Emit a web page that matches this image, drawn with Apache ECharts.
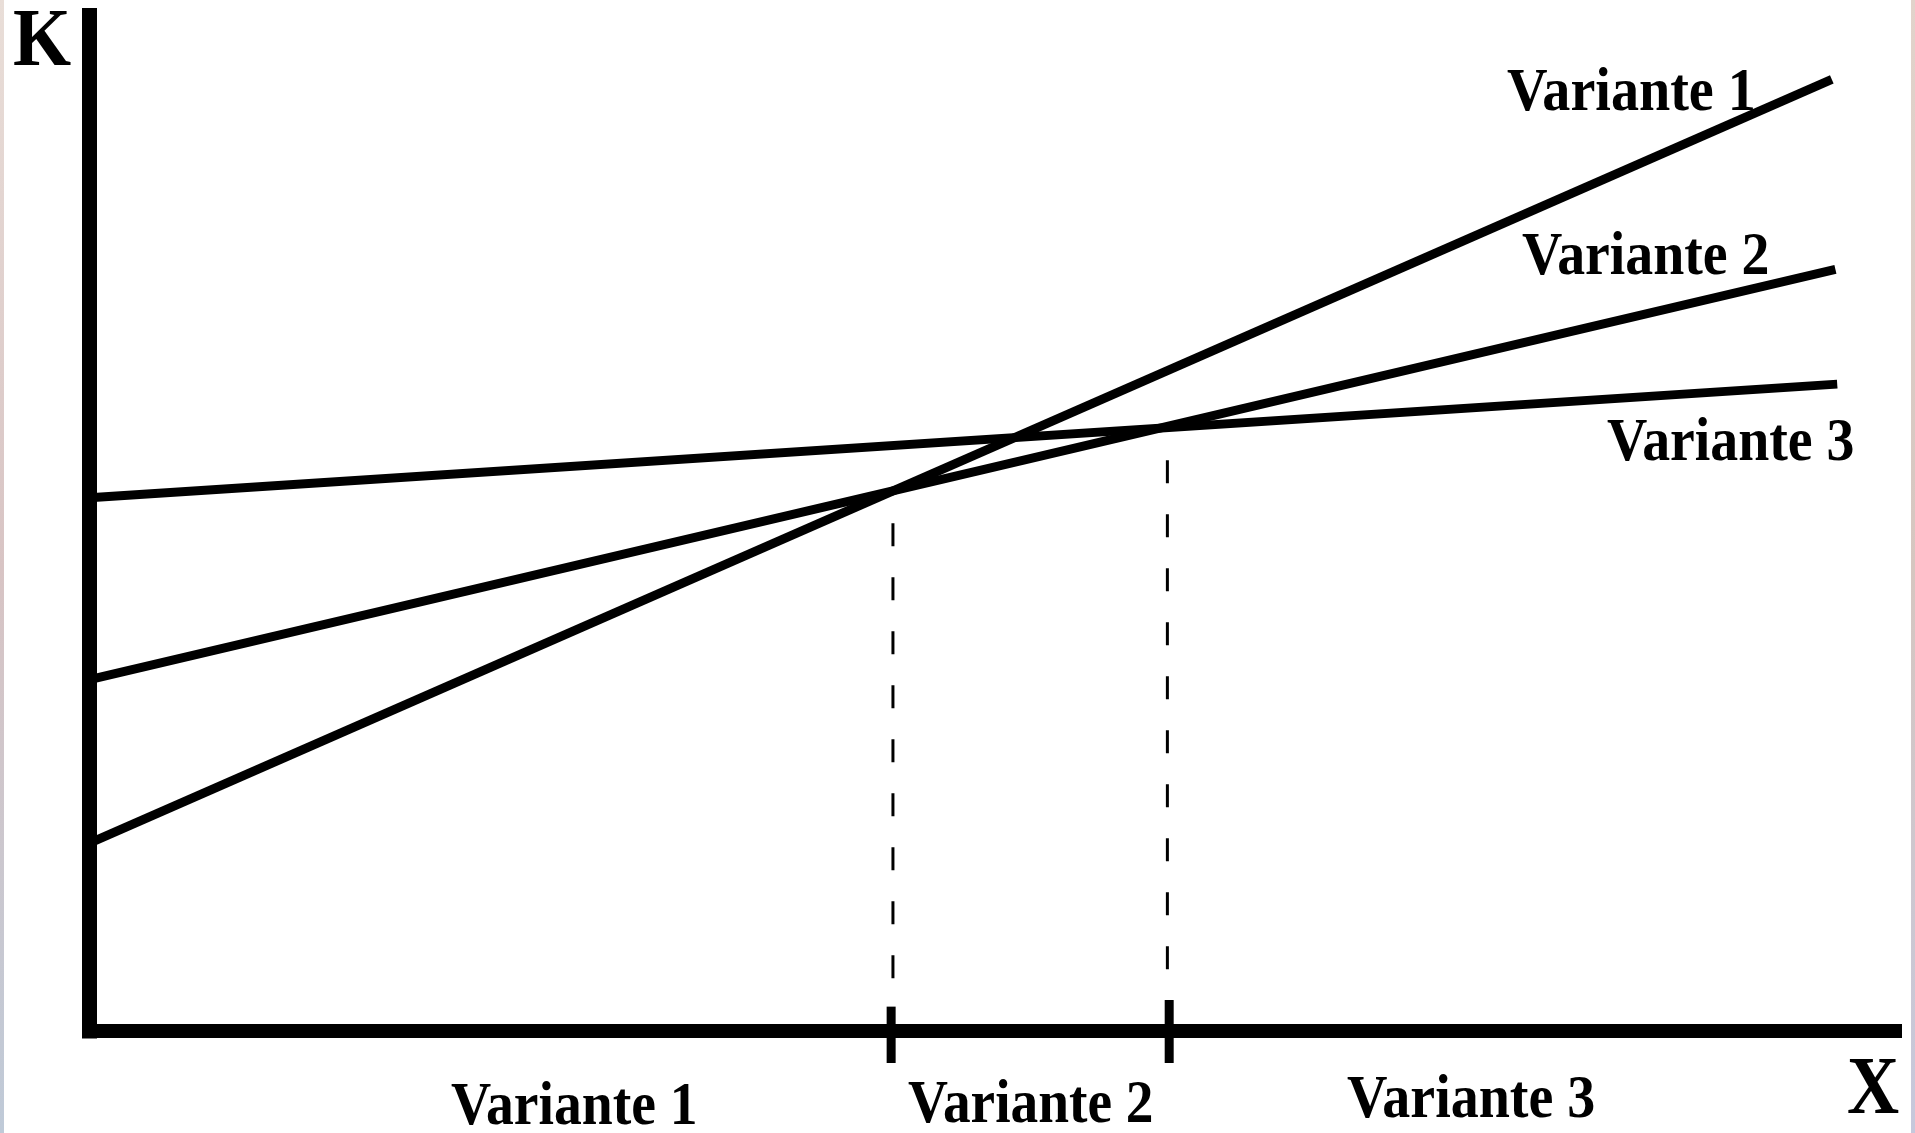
<!DOCTYPE html>
<html><head><meta charset="utf-8">
<script src="https://cdn.jsdelivr.net/npm/echarts@6/dist/echarts.min.js"></script>
<style>html,body{margin:0;padding:0;background:#fff}#c{width:1915px;height:1133px}</style>
</head><body><div id="c"></div>
<script>
// ---- data ----
const variantNames = ['Variante 1', 'Variante 2', 'Variante 3'];
const variant1 = [[0, 18.5], [96.5, 93.7]];
const variant2 = [[0, 34.6], [96.7, 75.0]];
const variant3 = [[0, 52.5], [96.8, 63.7]];
const boundaryX = [44.5, 59.7];
const boundaryTopY = [50.0, 56.2];
const tickX = [44.4, 59.8];
const tickTopY = [2.4, 3.05];
const tickBottomY = -3.15;
const axisNames = ['K', 'X'];

const chart = echarts.init(document.getElementById('c'), null, {renderer: 'canvas'});

const lineSeries = [variant1, variant2, variant3].map((d, i) => ({
  type: 'line', name: variantNames[i], data: d, symbol: 'none', silent: true,
  lineStyle: {color: '#000', width: 9}, z: 3
}));
const dashSeries = boundaryX.map((x, i) => ({
  type: 'line', data: [[x, boundaryTopY[i]], [x, 0]], symbol: 'none', silent: true,
  lineStyle: {color: '#000', width: 3, type: [23, 31], cap: 'butt'}, z: 2
}));
const tickSeries = tickX.map((x, i) => ({
  type: 'line', data: [[x, tickTopY[i]], [x, tickBottomY]], symbol: 'none', silent: true, clip: false,
  lineStyle: {color: '#000', width: 9}, z: 4
}));

const F = 62;
function label(text, x, yMid, size, sx) {
  return {type: 'text', x: x, y: yMid, scaleX: sx, silent: true, z: 10,
    style: {text: text, fontFamily: 'Liberation Serif', fontWeight: 'bold', fontSize: size,
      fill: '#000', align: 'left', verticalAlign: 'middle'}};
}

const option = {
  backgroundColor: '#ffffff',
  animation: false,
  grid: {left: 89.5, right: 20, top: 15.5, bottom: 102, containLabel: false},
  xAxis: {type: 'value', min: 0, max: 100,
    axisLine: {show: true, onZero: false, lineStyle: {color: '#000', width: 14, cap: 'square'}},
    axisTick: {show: false}, axisLabel: {show: false}, splitLine: {show: false}},
  yAxis: {type: 'value', min: 0, max: 100,
    axisLine: {show: true, onZero: false, lineStyle: {color: '#000', width: 15, cap: 'square'}},
    axisTick: {show: false}, axisLabel: {show: false}, splitLine: {show: false}},
  series: lineSeries.concat(dashSeries, tickSeries),
  graphic: [
    {type: 'rect', shape: {x: 0, y: 0, width: 4, height: 1133}, silent: true,
      style: {fill: new echarts.graphic.LinearGradient(0, 0, 0, 1, [
        {offset: 0, color: '#e9ded8'}, {offset: 0.5, color: '#d8c4c4'}, {offset: 1, color: '#bfcad8'}])}},
    {type: 'rect', shape: {x: 1911, y: 0, width: 4, height: 1133}, silent: true,
      style: {fill: new echarts.graphic.LinearGradient(0, 0, 0, 1, [
        {offset: 0, color: '#e2d3cb'}, {offset: 0.5, color: '#d6c6c0'}, {offset: 1, color: '#c6c8dc'}])}},
    label(axisNames[0], 13, 44, 83, 0.9),
    label(axisNames[1], 1847, 1092, 83, 0.87),
    label(variantNames[0], 1507, 94, F, 0.905),
    label(variantNames[1], 1522, 258, F, 0.9),
    label(variantNames[2], 1607, 444, F, 0.9),
    label(variantNames[0], 451, 1108, F, 0.897),
    label(variantNames[1], 908, 1106, F, 0.893),
    label(variantNames[2], 1347, 1101, F, 0.903)
  ]
};
chart.setOption(option);
</script></body></html>
